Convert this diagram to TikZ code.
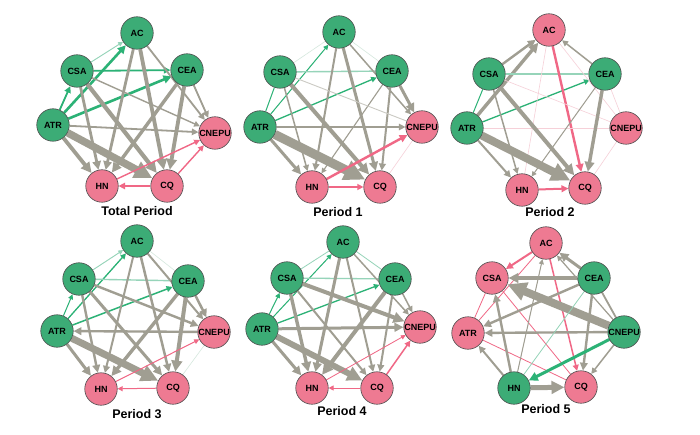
\documentclass[tikz,border=0pt]{standalone}
\usepackage{fontspec}
\setmainfont{Liberation Sans}
\usetikzlibrary{arrows.meta}
\pgfdeclarelayer{bg}
\pgfsetlayers{bg,main}
\definecolor{ngreen}{RGB}{60,172,118}
\definecolor{npink}{RGB}{238,122,146}
\definecolor{eg}{RGB}{160,158,146}
\definecolor{egr}{RGB}{44,178,118}
\definecolor{elg}{RGB}{150,212,185}
\definecolor{epk}{RGB}{240,104,134}
\definecolor{efp}{RGB}{246,208,216}
\definecolor{efg}{RGB}{214,232,222}
\tikzset{
  nd/.style={circle,draw=black!70,line width=0.6pt,minimum size=32.5pt,inner sep=0pt,
    font=\fontsize{9}{9}\selectfont\bfseries},
  gn/.style={nd,fill=ngreen},
  pk/.style={nd,fill=npink},
  ed/.style={-{Triangle[length=3pt 2 0,width=3pt 1.9 0]}},
  ttl/.style={font=\fontsize{12.5}{13}\selectfont\bfseries}
}
\newcommand\E[4]{\draw[ed,line width=#3pt,draw=#4,fill=#4] (#1) -- (#2);}
\newcommand\F[4]{\draw[line width=#3pt,draw=#4] (#1) -- (#2);}
\begin{document}
\begin{tikzpicture}[x=1pt,y=-1pt]
\useasboundingbox (0,0) rectangle (700,435);
% ---------- Panel a: Total Period
\node[gn] (ACa) at (137,33) {AC};
\node[gn] (CSAa) at (77,71) {CSA};
\node[gn] (CEAa) at (187,70) {CEA};
\node[gn] (ATRa) at (53,125) {ATR};
\node[pk] (CNEPUa) at (215,133) {CNEPU};
\node[pk] (HNa) at (102,186) {HN};
\node[pk] (CQa) at (167,186) {CQ};
\node[ttl] (La) at (137,211) {Total Period};
% ---------- Panel b: Period 1
\node[gn] (ACb) at (339,32) {AC};
\node[gn] (CSAb) at (280,72) {CSA};
\node[gn] (CEAb) at (392,71) {CEA};
\node[gn] (ATRb) at (260,127) {ATR};
\node[pk] (CNEPUb) at (422,127) {CNEPU};
\node[pk] (HNb) at (312,187) {HN};
\node[pk] (CQb) at (380,187) {CQ};
\node[ttl] (Lb) at (338,212) {Period 1};
% ---------- Panel c: Period 2
\node[pk] (ACc) at (549,30) {AC};
\node[gn] (CSAc) at (489,74) {CSA};
\node[gn] (CEAc) at (605,74) {CEA};
\node[gn] (ATRc) at (467,128) {ATR};
\node[pk] (CNEPUc) at (626,128) {CNEPU};
\node[pk] (HNc) at (522,190) {HN};
\node[pk] (CQc) at (585,188) {CQ};
\node[ttl] (Lc) at (550,212) {Period 2};
% ---------- Panel d: Period 3
\node[gn] (ACd) at (137,241) {AC};
\node[gn] (CSAd) at (79,279) {CSA};
\node[gn] (CEAd) at (188,281) {CEA};
\node[gn] (ATRd) at (57,331) {ATR};
\node[pk] (CNEPUd) at (214,332) {CNEPU};
\node[pk] (HNd) at (101,389) {HN};
\node[pk] (CQd) at (173,388) {CQ};
\node[ttl] (Ld) at (137,414) {Period 3};
% ---------- Panel e: Period 4
\node[gn] (ACe) at (343,242) {AC};
\node[gn] (CSAe) at (287,278) {CSA};
\node[gn] (CEAe) at (395,279) {CEA};
\node[gn] (ATRe) at (262,329) {ATR};
\node[pk] (CNEPUe) at (420,327) {CNEPU};
\node[pk] (HNe) at (312,388) {HN};
\node[pk] (CQe) at (377,388) {CQ};
\node[ttl] (Le) at (342,411) {Period 4};
% ---------- Panel f: Period 5
\node[pk] (ACf) at (546,243) {AC};
\node[pk] (CSAf) at (492,278) {CSA};
\node[gn] (CEAf) at (594,278) {CEA};
\node[pk] (ATRf) at (468,333) {ATR};
\node[gn] (CNEPUf) at (624,332) {CNEPU};
\node[gn] (HNf) at (514,388) {HN};
\node[pk] (CQf) at (581,387) {CQ};
\node[ttl] (Lf) at (546,409) {Period 5};

\begin{pgfonlayer}{bg}
\fill[white] (0,0) rectangle (700,435);
% ===== a
\E{CSAa}{ACa}{0.9}{elg}
\E{ATRa}{ACa}{2.6}{egr}
\E{ATRa}{CSAa}{1.8}{egr}
\E{CSAa}{CEAa}{1.8}{egr}
\E{ATRa}{CEAa}{2.6}{egr}
\E{ACa}{CNEPUa}{1.8}{eg}
\E{ACa}{CQa}{3.8}{eg}
\E{ACa}{HNa}{2.8}{eg}
\E{CEAa}{CNEPUa}{1.8}{eg}
\E{CEAa}{CQa}{3.8}{eg}
\E{CEAa}{HNa}{3.4}{eg}
\E{CSAa}{CNEPUa}{1.4}{eg}
\E{CSAa}{CQa}{4.2}{eg}
\E{CSAa}{HNa}{2.8}{eg}
\E{ATRa}{CNEPUa}{1.8}{eg}
\E{ATRa}{CQa}{7.5}{eg}
\E{ATRa}{HNa}{3.8}{eg}
\E{HNa}{CNEPUa}{1.4}{epk}
\E{CQa}{CNEPUa}{1.4}{epk}
\E{CQa}{HNa}{1.8}{epk}
% ===== b
\F{CSAb}{ACb}{0.6}{efg}
\F{ACb}{CEAb}{0.6}{efg}
\E{ATRb}{ACb}{1}{egr}
\F{ATRb}{CSAb}{1}{egr}
\F{CSAb}{CEAb}{1.4}{elg}
\E{ATRb}{CEAb}{1.3}{egr}
\E{ACb}{CNEPUb}{1.5}{eg}
\E{ACb}{CQb}{3}{eg}
\E{ACb}{HNb}{2}{eg}
\E{CEAb}{CNEPUb}{3}{eg}
\E{CEAb}{CQb}{2}{eg}
\E{CEAb}{HNb}{1.1}{eg}
\F{CSAb}{CNEPUb}{0.9}{eg!55}
\E{CSAb}{CQb}{4}{eg}
\E{CSAb}{HNb}{1.5}{eg}
\E{ATRb}{CNEPUb}{1.8}{eg}
\E{ATRb}{CQb}{9}{eg}
\E{ATRb}{HNb}{3}{eg}
\E{HNb}{CNEPUb}{2.4}{epk}
\E{HNb}{CQb}{1.5}{epk}
\F{CNEPUb}{CQb}{0.6}{efp}
% ===== c
\E{CSAc}{ACc}{2.4}{eg}
\E{ATRc}{ACc}{3.4}{eg}
\E{CEAc}{ACc}{1.5}{eg}
\F{ATRc}{CSAc}{1}{egr}
\F{CSAc}{CEAc}{1.4}{elg}
\E{ATRc}{CEAc}{1.3}{egr}
\E{ACc}{CQc}{2.4}{epk}
\F{ACc}{CNEPUc}{0.6}{efp}
\F{ACc}{HNc}{0.6}{efp}
\F{CSAc}{CNEPUc}{0.6}{efp}
\F{ATRc}{CNEPUc}{0.6}{efp}
\F{CNEPUc}{CQc}{0.6}{efp}
\F{CEAc}{CNEPUc}{0.6}{efp}
\E{CEAc}{CQc}{3.4}{eg}
\E{CEAc}{HNc}{1}{eg}
\E{CSAc}{CQc}{4}{eg}
\E{CSAc}{HNc}{1.5}{eg}
\E{ATRc}{CQc}{8}{eg}
\E{ATRc}{HNc}{2}{eg}
\E{HNc}{CQc}{2}{epk}
% ===== d
\E{CSAd}{ACd}{0.9}{elg}
\E{ATRd}{ACd}{1.3}{egr}
\E{ATRd}{CSAd}{1}{egr}
\F{CSAd}{CEAd}{1.4}{elg}
\E{ATRd}{CEAd}{1.5}{egr}
\F{ACd}{CEAd}{0.6}{efg}
\E{ACd}{CNEPUd}{2}{eg}
\E{ACd}{CQd}{2.5}{eg}
\E{ACd}{HNd}{2}{eg}
\E{CEAd}{CNEPUd}{2.5}{eg}
\E{CEAd}{CQd}{4}{eg}
\E{CEAd}{HNd}{3.4}{eg}
\E{CSAd}{CNEPUd}{2.4}{eg}
\E{CSAd}{CQd}{3}{eg}
\E{CSAd}{HNd}{2.4}{eg}
\E{CNEPUd}{ATRd}{2.4}{eg}
\E{ATRd}{CQd}{7}{eg}
\E{ATRd}{HNd}{3}{eg}
\E{HNd}{CNEPUd}{1}{epk}
\E{CQd}{HNd}{1}{epk}
\F{CNEPUd}{CQd}{0.6}{efg}
% ===== e
\F{CSAe}{ACe}{0.8}{elg}
\E{ATRe}{ACe}{1}{egr}
\E{ATRe}{CSAe}{1}{egr}
\F{CSAe}{CEAe}{1.3}{elg}
\E{ATRe}{CEAe}{1.3}{egr}
\F{ACe}{CEAe}{0.8}{elg}
\E{ACe}{CNEPUe}{1.5}{eg}
\E{ACe}{CQe}{2}{eg}
\E{ACe}{HNe}{3}{eg}
\E{CEAe}{CNEPUe}{1.5}{eg}
\E{CEAe}{CQe}{2}{eg}
\E{CEAe}{HNe}{4}{eg}
\E{CSAe}{CNEPUe}{4}{eg}
\E{CSAe}{CQe}{2}{eg}
\E{CSAe}{HNe}{3.4}{eg}
\E{ATRe}{CNEPUe}{3}{eg}
\E{ATRe}{CQe}{6}{eg}
\E{ATRe}{HNe}{3}{eg}
\E{HNe}{CNEPUe}{0.8}{epk}
\E{CQe}{CNEPUe}{1.5}{epk}
\E{CQe}{HNe}{1}{epk}
% ===== f
\E{ACf}{CSAf}{2}{epk}
\F{ACf}{ATRf}{0.8}{epk}
\E{ACf}{CQf}{1.5}{epk}
\F{CSAf}{ATRf}{0.8}{epk}
\F{CSAf}{CQf}{0.8}{epk}
\F{ATRf}{CQf}{0.8}{epk}
\E{CEAf}{ACf}{3}{eg}
\E{CNEPUf}{ACf}{1.2}{eg}
\E{CEAf}{CSAf}{3.4}{eg}
\E{CNEPUf}{CSAf}{8}{eg}
\E{CEAf}{ATRf}{2.4}{eg}
\E{CNEPUf}{ATRf}{2.4}{eg}
\E{CEAf}{CQf}{2.4}{eg}
\E{CNEPUf}{CQf}{1.5}{eg}
\F{CEAf}{CNEPUf}{1.8}{eg}
\F{CEAf}{HNf}{0.8}{elg}
\E{CNEPUf}{HNf}{3}{egr}
\E{HNf}{CSAf}{2.4}{eg}
\E{HNf}{ATRf}{2}{eg}
\E{HNf}{ACf}{1}{eg}
\E{HNf}{CQf}{5}{eg}
\end{pgfonlayer}
\end{tikzpicture}
\end{document}
